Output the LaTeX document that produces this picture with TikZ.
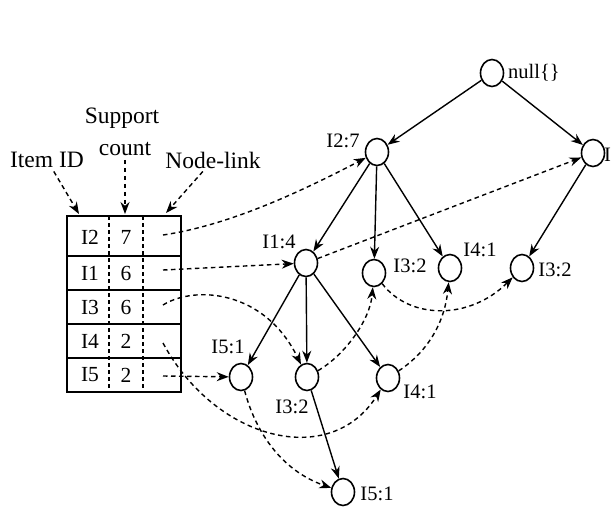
\documentclass[tikz,border=0pt]{standalone}
\usepackage{fontspec}
\setmainfont{Liberation Serif}
\usetikzlibrary{arrows.meta,shapes.geometric}
\begin{document}
\begin{tikzpicture}[x=1pt,y=-1pt,
  tn/.style={draw, ellipse, minimum width=23pt, minimum height=27pt, inner sep=0pt, line width=1.6pt},
  lbl/.style={font=\fontsize{20.5}{22}\selectfont, inner sep=0pt},
  cell/.style={font=\fontsize{21.5}{23}\selectfont, inner sep=0pt},
  hdr/.style={font=\fontsize{23.5}{25}\selectfont, inner sep=0pt},
  edge/.style={line width=1.4pt, -{Stealth[length=12pt,width=9pt]}},
  link/.style={line width=1.4pt, dash pattern=on 4.5pt off 3.5pt, -{Stealth[length=12pt,width=9pt]}},
]
\useasboundingbox (0,0) rectangle (615,507);

% tree nodes
\node[tn] (null) at (492,73) {};
\node[tn] (i12) at (593,153) {};
\node[tn] (i27) at (377,152) {};
\node[tn] (i14) at (306,263) {};
\node[tn] (i32a) at (374,273) {};
\node[tn] (i41a) at (450,268) {};
\node[tn] (i32b) at (522,268) {};
\node[tn] (i51a) at (241,377) {};
\node[tn] (i32c) at (307,377) {};
\node[tn] (i41b) at (388,378) {};
\node[tn] (i51b) at (343,492) {};

% tree labels
\node[lbl, anchor=west] (tnull) at (508,73) {null\{\}};
\node[lbl, anchor=west] (ti12) at (604,155) {I};
\node[lbl] (ti27) at (343,141) {I2:7};
\node[lbl] (ti14) at (279,242) {I1:4};
\node[lbl] (ti32a) at (410,266) {I3:2};
\node[lbl] (ti41a) at (480,250) {I4:1};
\node[lbl] (ti32b) at (555,270) {I3:2};
\node[lbl] (ti51a) at (228,347) {I5:1};
\node[lbl] (ti32c) at (292,407) {I3:2};
\node[lbl] (ti41b) at (420,392) {I4:1};
\node[lbl] (ti51b) at (377,494) {I5:1};

% tree edges
\draw[edge] (null) -- (i27);
\draw[edge] (null) -- (i12);
\draw[edge] (i27) -- (i14);
\draw[edge] (i27) -- (i32a);
\draw[edge] (i27) -- (i41a);
\draw[edge] (i12) -- (i32b);
\draw[edge] (i14) -- (i51a);
\draw[edge] (i14) -- (i32c);
\draw[edge] (i14) -- (i41b);
\draw[edge] (i32c) -- (i51b);

% header table
\draw[line width=1.8pt] (67,216) rectangle (181,392);
\foreach \yy in {256,290,324,358} \draw[line width=1.4pt] (67,\yy) -- (181,\yy);
\draw[line width=1.1pt, dash pattern=on 4pt off 3pt] (109,216) -- (109,392);
\draw[line width=1.1pt, dash pattern=on 4pt off 3pt] (143,216) -- (143,392);

\node[cell] (r2a) at (90,237) {I2}; \node[cell] (r2b) at (126,237) {7};
\node[cell] (r1a) at (90,273) {I1}; \node[cell] (r1b) at (126,273) {6};
\node[cell] (r3a) at (90,307) {I3}; \node[cell] (r3b) at (126,307) {6};
\node[cell] (r4a) at (90,341) {I4}; \node[cell] (r4b) at (126,341) {2};
\node[cell] (r5a) at (90,375) {I5}; \node[cell] (r5b) at (126,375) {2};

\coordinate (l2) at (163,235);
\coordinate (l1) at (163,270);
\coordinate (l3) at (163,305);
\coordinate (l4) at (163,343);
\coordinate (l5) at (163,376);

% headers
\node[hdr] (sup) at (122,118) {Support};
\node[hdr] (cnt) at (125,149) {count};
\node[hdr] (tid) at (47,160) {Item ID};
\node[hdr] (nlk) at (213,160) {Node-link};
\coordinate (h1) at (79,214);
\coordinate (h2) at (125,214);
\coordinate (h3) at (166,213);
\draw[link, shorten <=4pt] (tid) -- (h1);
\draw[link, shorten <=4pt] (cnt) -- (h2);
\draw[link, shorten <=4pt] (nlk) -- (h3);

% node-links
\draw[link] (l2) .. controls (230,225) and (300,192) .. (i27);
\draw[link] (l1) -- (i14);
\draw[link] (i14) -- (i12);
\draw[link] (l3) .. controls (195,285) and (265,290) .. (i32c);
\draw[link] (i32c) .. controls (345,355) and (370,320) .. (i32a);
\draw[link] (i32a) .. controls (410,320) and (470,320) .. (i32b);
\draw[link] (l4) .. controls (215,440) and (330,470) .. (i41b);
\draw[link] (i41b) .. controls (430,350) and (445,320) .. (i41a);
\draw[link] (l5) -- (i51a);
\draw[link] (i51a) .. controls (255,430) and (280,470) .. (i51b);
\end{tikzpicture}
\end{document}
